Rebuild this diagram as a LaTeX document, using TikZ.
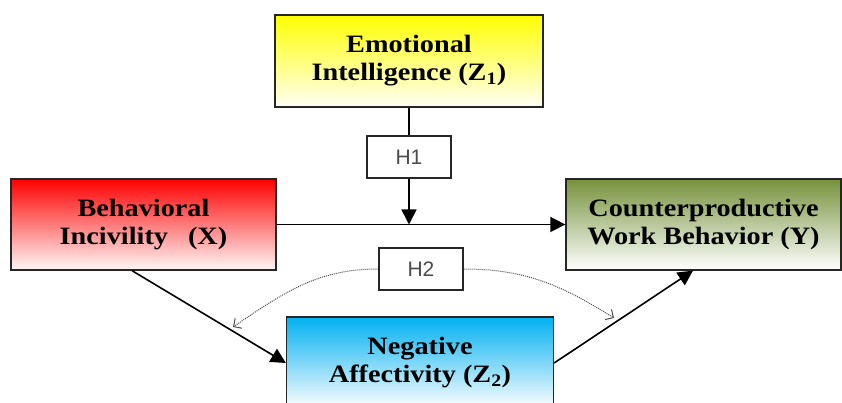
\documentclass[tikz,border=0pt]{standalone}
\usepackage{fontspec}
\setmainfont{Liberation Serif}
\newfontfamily\boxfont[FakeStretch=1.13]{Liberation Serif}
\newfontfamily\hypfont{Liberation Sans}
\usetikzlibrary{arrows.meta, positioning}

\definecolor{redtop}{HTML}{FF0000}
\definecolor{yellowtop}{HTML}{FFFF00}
\definecolor{greentop}{HTML}{76923C}
\definecolor{bluetop}{HTML}{00B0F0}

\begin{document}
\begin{tikzpicture}[x=1pt, y=1pt, node distance=100pt, on grid,
    var/.style={draw=black!85, line width=1.3pt, inner sep=0pt, align=center,
        font=\boxfont\bfseries\fontsize{25}{28}\selectfont, text=black},
    hyp/.style={draw=black!85, line width=1.3pt, fill=white, inner sep=0pt,
        minimum width=84pt, minimum height=42pt,
        font=\hypfont\fontsize{21}{24}\selectfont, text=black!70},
    arr/.style={line width=1.6pt, -{Triangle[length=15pt, width=15pt]}},
    dots/.style={densely dotted, line width=1pt, black!70,
        -{Straight Barb[length=6pt, width=12pt]}}]
    \useasboundingbox (0,0) rectangle (842,403);
    \clip (0,0) rectangle (842,403);
    \node[var, minimum width=268pt, minimum height=92pt, top color=yellowtop, bottom color=yellowtop!4] (z_1) at (409,342) {Emotional\\Intelligence (Z\textsubscript{1})};
    \node[hyp] (h_1) [below=96pt of z_1] {H1};
    \node[var, minimum width=265pt, minimum height=91pt, top color=redtop, bottom color=redtop!3] (x) [below left=163.5pt and 265.5pt of z_1] {Behavioral\\Incivility\hspace{0.8em}(X)};
    \node[var, minimum width=275pt, minimum height=91pt, top color=greentop, bottom color=white] (y) [right=560pt of x] {Counterproductive\\Work Behavior (Y)};
    \node[hyp] (h_2) [below right=208pt and 12pt of z_1] {H2};
    \node[var, minimum width=267pt, minimum height=92pt, top color=bluetop, bottom color=white] (z_2) [below right=302pt and 11pt of z_1] {Negative\\Affectivity (Z\textsubscript{2})};
    \coordinate (m) at (h_1 |- x);
    \coordinate (l_end) at (233,76);
    \coordinate (r_end) at (614,85);
	\path[arr]
	(z_1) edge[-] (h_1)
	(h_1) edge (m)
	(x) edge (y)
	([xshift=-11.5pt]x.south) edge (z_2.west)
	(z_2.east) edge ([xshift=-10.5pt]y.south);
	\path[dots]
	(h_2.west) edge[out=180, in=34] (l_end)
	(h_2.east) edge[out=0, in=148] (r_end);
\end{tikzpicture}
\end{document}
